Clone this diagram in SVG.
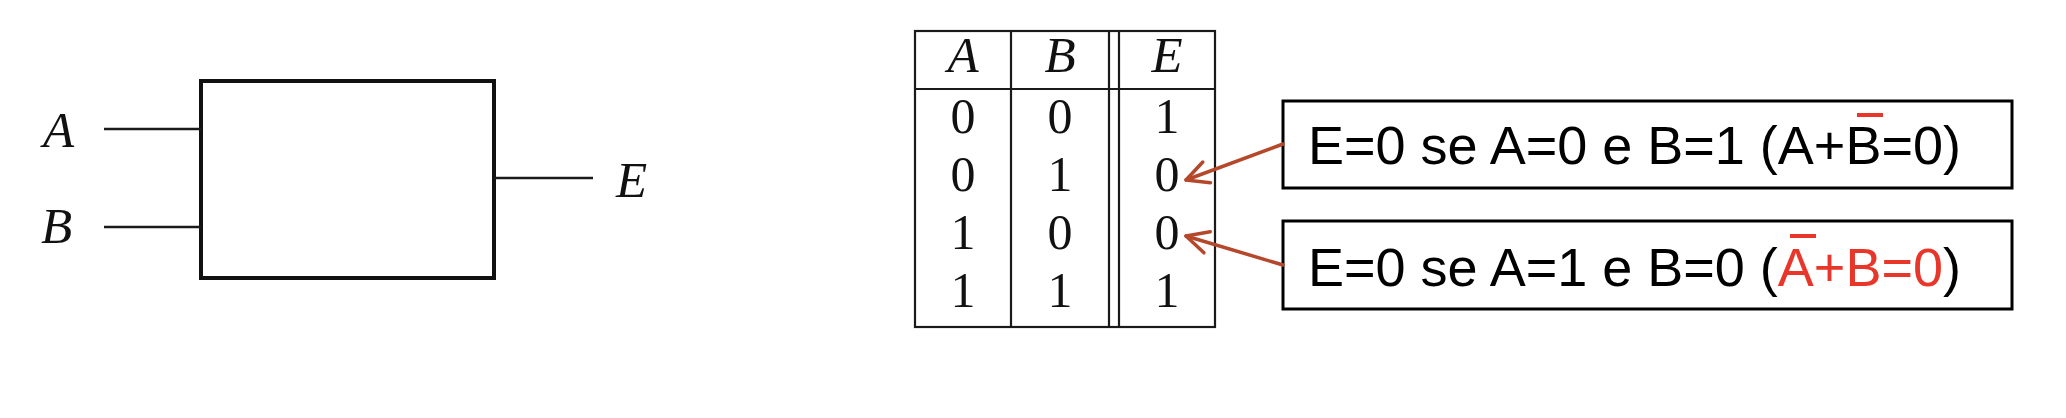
<svg xmlns="http://www.w3.org/2000/svg" width="2066" height="418" viewBox="0 0 2066 418">
<style>
.math{font-family:"Liberation Serif","DejaVu Serif",serif;font-style:italic;font-size:51px;fill:#111}
.num{font-family:"Liberation Serif","DejaVu Serif",serif;font-size:50px;fill:#111;text-anchor:middle}
.hd{text-anchor:middle}
.wire{stroke:#1a1a1a;stroke-width:2.5;fill:none}
.tbl{stroke:#1a1a1a;stroke-width:2.2;fill:none}
.note{fill:#fff;stroke:#000;stroke-width:3}
.lbl{font-family:"Liberation Sans",Arial,sans-serif;font-size:54px;fill:#000}
.red{fill:#E8372A}
.bar{stroke:#E8372A;stroke-width:4}
.arrow{stroke:#B5472B;stroke-width:3.5;fill:none;stroke-linecap:round}
</style>
<defs>
<marker id="head" markerUnits="userSpaceOnUse" markerWidth="30" markerHeight="30" refX="0" refY="0" orient="auto" overflow="visible">
<path d="M-22,-11 L0,0 L-22,11" fill="none" stroke="#B5472B" stroke-width="3.5" stroke-linecap="round" stroke-linejoin="round"/>
</marker>
</defs>
<rect width="2066" height="418" fill="#fff"/>

<g id="block">
<rect x="201" y="81" width="293" height="197" fill="#fff" stroke="#111" stroke-width="4"/>
<line class="wire" x1="104" y1="129" x2="201" y2="129"/>
<line class="wire" x1="104" y1="227" x2="201" y2="227"/>
<line class="wire" x1="494" y1="178" x2="593" y2="178"/>
<text class="math" x="43" y="147">A</text>
<text class="math" x="41" y="243">B</text>
<text class="math" x="616" y="197">E</text>
</g>

<g id="truth-table">
<rect class="tbl" x="915" y="31" width="300" height="296"/>
<line class="tbl" x1="915" y1="89" x2="1215" y2="89"/>
<line class="tbl" x1="1011" y1="31" x2="1011" y2="327"/>
<line class="tbl" x1="1109" y1="31" x2="1109" y2="327"/>
<line class="tbl" x1="1119" y1="31" x2="1119" y2="327"/>
<text class="math hd" x="963" y="72">A</text>
<text class="math hd" x="1060" y="72">B</text>
<text class="math hd" x="1167" y="72">E</text>
<text class="num" x="963" y="133">0</text><text class="num" x="1060" y="133">0</text><text class="num" x="1167" y="133">1</text>
<text class="num" x="963" y="191">0</text><text class="num" x="1060" y="191">1</text><text class="num" x="1167" y="191">0</text>
<text class="num" x="963" y="249">1</text><text class="num" x="1060" y="249">0</text><text class="num" x="1167" y="249">0</text>
<text class="num" x="963" y="307">1</text><text class="num" x="1060" y="307">1</text><text class="num" x="1167" y="307">1</text>
</g>

<g id="note1">
<rect class="note" x="1283" y="101" width="729" height="87"/>
<text class="lbl" x="1308" y="164">E=0 se A=0 e B=1 (A+B=0)</text>
<line class="bar" x1="1857" y1="115" x2="1883" y2="115"/>
</g>

<g id="note2">
<rect class="note" x="1283" y="221" width="729" height="88"/>
<text class="lbl" x="1308" y="286">E=0 se A=1 e B=0 (<tspan class="red">A+B=0</tspan>)</text>
<line class="bar" x1="1790" y1="236" x2="1816" y2="236"/>
</g>

<g id="connectors">
<line class="arrow" x1="1283" y1="144" x2="1186" y2="180" marker-end="url(#head)"/>
<line class="arrow" x1="1283" y1="265" x2="1186" y2="236" marker-end="url(#head)"/>
</g>
</svg>
